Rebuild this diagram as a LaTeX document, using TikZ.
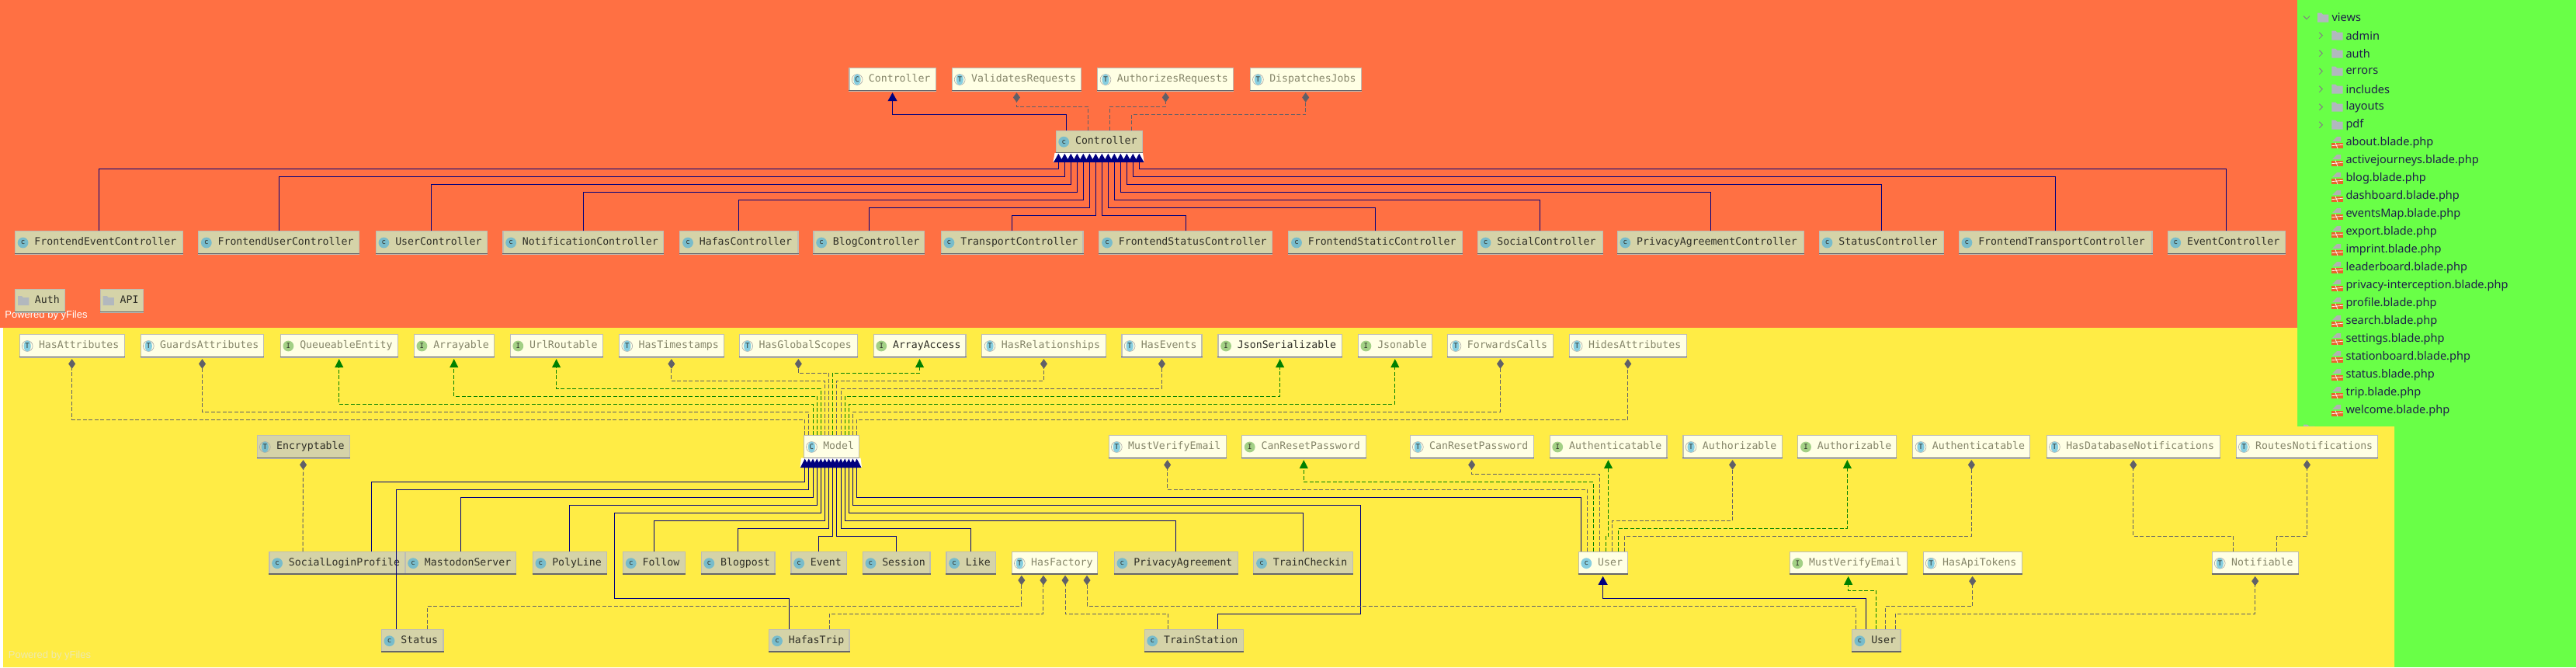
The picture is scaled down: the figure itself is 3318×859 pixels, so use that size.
\documentclass[tikz,border=0pt]{standalone}
\usepackage{fontspec}
\usetikzlibrary{arrows.meta,calc}
\newfontfamily\monof{DejaVu Sans Mono}
\newfontfamily\treef{Noto Sans}
\newfontfamily\yf{Liberation Sans}
\definecolor{bgor}{HTML}{FF7043}
\definecolor{bgye}{HTML}{FFEC45}
\definecolor{bggr}{HTML}{69FF47}
\definecolor{lightf}{HTML}{FFFFE4}
\definecolor{darkf}{HTML}{D5D3A8}
\definecolor{bord}{HTML}{BDBDB5}
\definecolor{barc}{HTML}{66666A}
\definecolor{txtlight}{HTML}{86866A}
\definecolor{txtdark}{HTML}{2E2E26}
\definecolor{bluel}{HTML}{87CEE0}
\definecolor{blued}{HTML}{78BCCB}
\definecolor{greeni}{HTML}{A3D085}
\definecolor{navyl}{HTML}{00007F}
\definecolor{greenl}{HTML}{008000}
\definecolor{grayl}{HTML}{606068}
\definecolor{fold}{HTML}{B2B8BE}
\definecolor{treet}{HTML}{1E1E4A}
\definecolor{bladeo}{HTML}{E8642C}
\tikzset{
  boxbase/.style={draw=bord,line width=1.1pt,anchor=north west,inner sep=0pt,minimum height=29.3pt,align=left,font=\monof\fontsize{13.2}{15}\selectfont},
  lightcls/.style={boxbase,fill=lightf,text=txtlight},
  strongcls/.style={boxbase,fill=lightf,text=txtdark},
  darkcls/.style={boxbase,fill=darkf,text=txtdark},
  iconletter/.style={inner sep=0pt,text=txtdark,font=\monof\fontsize{9}{9}\selectfont},
  inh/.style={draw=navyl,line width=1pt,-{Triangle[length=11pt,width=12pt,fill=navyl,sep=0pt]},shorten >=1.5pt},
  inhm/.style={draw=navyl,line width=1pt,-{Triangle[length=11.5pt,width=11.4pt,fill=navyl,sep=0pt]},shorten >=1.5pt},
  impl/.style={draw=greenl,line width=1pt,dash pattern=on 5pt off 2.5pt,-{Triangle[length=11pt,width=11pt,fill=greenl,sep=0pt]},shorten >=1.5pt},
  dep/.style={draw=grayl,line width=1pt,dash pattern=on 5pt off 2.5pt,-{Diamond[length=12.5pt,width=9pt,fill=grayl,sep=0pt]},shorten >=1.5pt},
  treetxt/.style={anchor=west,inner sep=0pt,text=treet,font=\treef\fontsize{14.55}{16}\selectfont},
}
\newcommand\iconbody[2]{%
  \ifx#2c\fill[\curblue] (#1-i) circle (6.9pt);\node[iconletter] (#1-l) at (#1-i) {c};\fi
  \ifx#2a\draw[gray!70,line width=.6pt] (#1-i) circle (6.9pt);\fill[\curblue] (#1-i) ellipse (4.6pt and 6.9pt);\node[iconletter] (#1-l) at (#1-i) {C};\fi
  \ifx#2t\draw[gray!70,line width=.6pt] (#1-i) circle (6.9pt);\fill[\curblue] (#1-i) ellipse (4.6pt and 6.9pt);\node[iconletter] (#1-l) at (#1-i) {T};\fi
  \ifx#2i\fill[greeni] (#1-i) circle (6.9pt);\node[iconletter] (#1-l) at (#1-i) {I};\fi
}
\newcommand\umlb[7]{% style,name,x1,x2,y,kind,label
  \pgfmathsetmacro\bw{#4-#3}%
  \node[#1,text width=\bw pt] (#2) at (#3,#5) {\strut\hspace*{25pt}#7};
  \draw[barc,line width=1.5pt] ([yshift=1.2pt]#2.south west) -- ([yshift=1.2pt]#2.south east);
  \coordinate (#2-i) at ([xshift=10.7pt]#2.west);
  \iconbody{#2}{#6}%
}
\newcommand\lbx[6]{\def\curblue{bluel}\umlb{lightcls}{#1}{#2}{#3}{#4}{#5}{#6}}
\newcommand\sbx[6]{\def\curblue{bluel}\umlb{strongcls}{#1}{#2}{#3}{#4}{#5}{#6}}
\newcommand\dbx[6]{\def\curblue{blued}\umlb{darkcls}{#1}{#2}{#3}{#4}{#5}{#6}}
\newcommand\rise[4]{\draw[#1] (#2) |- (#3 |- 0,#4) -- (#3);}
\newcommand\foldr[2]{% x, y
  \fill[fold] (#1,#2-6) -- (#1+5,#2-6) -- (#1+7,#2-4) -- (#1+14.3,#2-4) -- (#1+14.3,#2+6) -- (#1,#2+6) -- cycle;}
\begin{document}
\begin{tikzpicture}[x=1pt,y=-1pt]
\useasboundingbox (0,0) rectangle (3318,859);
\fill[white] (0,0) rectangle (3318,859);
\fill[bgor] (0,0) rectangle (2959,422);
\fill[bggr] (2959,0) rectangle (3318,859);
% ---------- tree
\draw[gray!60!black!70,line width=1pt] (2967,20.7) -- (2971,24.7) -- (2975,20.7);
\foldr{2985}{22.7}
\node[treetxt] (tree0) at (3003.3,22.7) {views};
\foreach \t [count=\k from 1] in {admin,auth,errors,includes,layouts,pdf}{
  \pgfmathsetmacro\yy{22.7+23*\k}
  \draw[gray!60!black!70,line width=1pt] (2987.3,\yy-4) -- (2991.3,\yy) -- (2987.3,\yy+4);
  \foldr{3003.3}{\yy}
  \node[treetxt] (tree\k) at (3021.3,\yy) {\t};
}
\foreach \t [count=\k from 7] in {about,activejourneys,blog,dashboard,eventsMap,export,imprint,leaderboard,privacy-interception,profile,search,settings,stationboard,status,trip,welcome}{
  \pgfmathsetmacro\yy{22.7+23*\k}
  \fill[gray!60] (3004,\yy-1.5) -- (3010,\yy-7.5) -- (3015,\yy-7.5) -- (3015,\yy-1.5) -- cycle;
  \fill[bladeo] (3003.3,\yy) rectangle (3018,\yy+7.5);
  \draw[white,line width=.7pt] (3003.3,\yy+4) -- (3018,\yy+2.5) (3008,\yy) -- (3011,\yy+7.5);
  \node[treetxt] (tree\k) at (3021.3,\yy) {\t.blade.php};
}
\foldr{2967}{552.7}
% ---------- yellow panel
\fill[bgye] (4,422) -- (2959,422) -- (2959,549) -- (3084,549) -- (3084,859) -- (4,859) -- cycle;
\node[anchor=center,inner sep=0pt,text=white,font=\yf\fontsize{13}{14}\selectfont] (pw1) at (59.5,406) {Powered by yFiles};
\node[anchor=center,inner sep=0pt,text={rgb,255:red,237;green,233;blue,176},font=\yf\fontsize{13}{14}\selectfont] (pw2) at (64,843.7) {Powered by yFiles};
% ---------- boxes
\lbx{cTop}{1093.4}{1204.6}{87.3}{a}{Controller}
\lbx{vReq}{1225.5}{1392.3}{87.3}{t}{ValidatesRequests}
\lbx{aReq}{1413.3}{1588.3}{87.3}{t}{AuthorizesRequests}
\lbx{dJobs}{1609.7}{1752.6}{87.3}{t}{DispatchesJobs}
\dbx{ctrl}{1359.5}{1470.5}{167.5}{c}{Controller}
\dbx{c1}{18.9}{234.7}{297.3}{c}{FrontendEventController}
\dbx{c2}{255.1}{462.2}{297.3}{c}{FrontendUserController}
\dbx{c3}{483.7}{626.5}{297.3}{c}{UserController}
\dbx{c4}{647.4}{854.3}{297.3}{c}{NotificationController}
\dbx{c5}{875.3}{1027.4}{297.3}{c}{HafasController}
\dbx{c6}{1047.4}{1190.3}{297.3}{c}{BlogController}
\dbx{c7}{1211.7}{1394.4}{297.3}{c}{TransportController}
\dbx{c8}{1415.3}{1638.3}{297.3}{c}{FrontendStatusController}
\dbx{c9}{1659.3}{1882.7}{297.3}{c}{FrontendStaticController}
\dbx{c10}{1902.8}{2063.5}{297.3}{c}{SocialController}
\dbx{c11}{2082.6}{2322.7}{297.3}{c}{PrivacyAgreementController}
\dbx{c12}{2342.8}{2502.6}{297.3}{c}{StatusController}
\dbx{c13}{2522.7}{2771.4}{297.3}{c}{FrontendTransportController}
\dbx{c14}{2791.5}{2942.6}{297.3}{c}{EventController}
% folders
\node[darkcls,text width=64.3pt] (fAuth) at (18.9,372.3) {\strut\hspace*{25.5pt}Auth};
\draw[barc,line width=1.5pt] ([yshift=1.2pt]fAuth.south west) -- ([yshift=1.2pt]fAuth.south east);
\foldr{23}{387}
\node[darkcls,text width=55.1pt] (fApi) at (128.6,372.3) {\strut\hspace*{25.5pt}API};
\draw[barc,line width=1.5pt] ([yshift=1.2pt]fApi.south west) -- ([yshift=1.2pt]fApi.south east);
\foldr{132.6}{387}
% row C
\lbx{hasAttr}{24.5}{159.7}{430.3}{t}{HasAttributes}
\lbx{guards}{180.6}{339.3}{430.3}{t}{GuardsAttributes}
\lbx{queue}{360.7}{511.7}{430.3}{i}{QueueableEntity}
\lbx{arrbl}{532.7}{635.7}{430.3}{i}{Arrayable}
\lbx{urlR}{656.6}{775.5}{430.3}{i}{UrlRoutable}
\lbx{hasTime}{797}{931.6}{430.3}{t}{HasTimestamps}
\lbx{hasGlob}{952}{1103.6}{430.3}{t}{HasGlobalScopes}
\sbx{arrAcc}{1124.5}{1243.4}{430.3}{i}{ArrayAccess}
\lbx{hasRel}{1264.3}{1423.5}{430.3}{t}{HasRelationships}
\lbx{hasEv}{1444.4}{1547.4}{430.3}{t}{HasEvents}
\sbx{jsonS}{1568.4}{1727.7}{430.3}{i}{JsonSerializable}
\lbx{jsonA}{1748.7}{1843.8}{430.3}{i}{Jsonable}
\lbx{fwd}{1864.3}{1999.6}{430.3}{t}{ForwardsCalls}
\lbx{hides}{2020.5}{2171.9}{430.3}{t}{HidesAttributes}
% row mid
\dbx{encr}{330.6}{449.5}{560.3}{t}{Encryptable}
\lbx{model}{1034.7}{1105.6}{560.3}{a}{Model}
\lbx{mve}{1427.6}{1578.6}{560.3}{t}{MustVerifyEmail}
\lbx{crpI}{1599}{1758.5}{560.3}{i}{CanResetPassword}
\lbx{crpT}{1815.6}{1974.6}{560.3}{t}{CanResetPassword}
\lbx{authI}{1995.5}{2146.4}{560.3}{i}{Authenticatable}
\lbx{azT}{2167.4}{2294.6}{560.3}{t}{Authorizable}
\lbx{azI}{2315.3}{2442.3}{560.3}{i}{Authorizable}
\lbx{authT}{2463.3}{2614.3}{560.3}{t}{Authenticatable}
\lbx{dbNot}{2635.7}{2858.7}{560.3}{t}{HasDatabaseNotifications}
\lbx{rtNot}{2879.6}{3062.2}{560.3}{t}{RoutesNotifications}
% row D
\dbx{social}{346.4}{521.4}{710}{c}{SocialLoginProfile}
\dbx{masto}{521.4}{664.3}{710}{c}{MastodonServer}
\dbx{poly}{685.7}{781.1}{710}{c}{PolyLine}
\dbx{follow}{802}{881.6}{710}{c}{Follow}
\dbx{blogp}{902.6}{997.4}{710}{c}{Blogpost}
\dbx{event}{1018.4}{1089.8}{710}{c}{Event}
\dbx{session}{1110.7}{1197.4}{710}{c}{Session}
\dbx{like}{1218.4}{1281.6}{710}{c}{Like}
\lbx{hasFac}{1302.6}{1413.3}{710}{t}{HasFactory}
\dbx{privA}{1434.7}{1593.9}{710}{c}{PrivacyAgreement}
\dbx{trainC}{1614.3}{1742}{710}{c}{TrainCheckin}
\lbx{userL}{2032.6}{2095.5}{710}{c}{User}
\lbx{mveI}{2304.6}{2455.6}{710}{i}{MustVerifyEmail}
\lbx{apiT}{2476.5}{2603.6}{710}{t}{HasApiTokens}
\lbx{notif}{2848.5}{2959.7}{710}{t}{Notifiable}
% row E
\dbx{status}{490.8}{570.4}{810}{c}{Status}
\dbx{hafas}{990.3}{1093.4}{810}{c}{HafasTrip}
\dbx{trainS}{1473.5}{1601}{810}{c}{TrainStation}
\dbx{userD}{2384.7}{2447.4}{810}{c}{User}
% ---------- anchors for connectors
\foreach \k in {1,...,14}{
  \pgfmathsetmacro\xx{1363.3+8*(\k-1)}
  \coordinate (Cb\k) at (\xx,196.3);
  \pgfmathsetmacro\xx{1036.7+5.146*(\k-1)}
  \coordinate (Mt\k) at (\xx,560.3);
  \coordinate (Mb\k) at (\xx,589);
}
\coordinate (Ct1) at (1373.5,167.5);
\coordinate (Ct2) at (1401.5,167.5);
\coordinate (Ct3) at (1429.6,167.5);
\coordinate (Ct4) at (1457.7,167.5);
\coordinate (socA) at (478.6,710);
\coordinate (socB) at (390,710);
\coordinate (stA) at (510.7,810);
\coordinate (stB) at (550.5,810);
\coordinate (htA) at (1016.3,810);
\coordinate (htB) at (1068.4,810);
\coordinate (tsA) at (1568.4,810);
\coordinate (tsB) at (1504.6,810);
\coordinate (hf1) at (1315.8,739.3);
\coordinate (hf2) at (1343.9,739.3);
\coordinate (hf3) at (1372,739.3);
\coordinate (hf4) at (1400,739.3);
\foreach \n/\x in {1/2036.6,2/2044.6,3/2052.2,4/2060.7,5/2068.3,6/2076.3,7/2084.4,8/2092.4}{\coordinate (Ut\n) at (\x,710);}
\foreach \n/\x in {1/2390.3,2/2403.6,3/2416.3,4/2428.6,5/2441.3}{\coordinate (Ud\n) at (\x,810);}
\coordinate (Nt1) at (2876.5,710);
\coordinate (Nt2) at (2932.7,710);
% ---------- white backing of the arrowhead rows
\fill[white] (1358.5,197) -- (1472,197) -- (1473.5,208.7) -- (1356.5,208.7) -- cycle;
\fill[white] (1032,589.5) -- (1108.5,589.5) -- (1110,601.7) -- (1030.5,601.7) -- cycle;
% ---------- controller connectors
\rise{inh}{Ct1}{cTop.south}{147.3}
\rise{dep}{Ct2}{vReq.south}{137.3}
\rise{dep}{Ct3}{aReq.south}{137.3}
\rise{dep}{Ct4}{dJobs.south}{147.3}
\rise{inh}{c1.north}{Cb1}{217.3}
\rise{inh}{c2.north}{Cb2}{227.3}
\rise{inh}{c3.north}{Cb3}{237.3}
\rise{inh}{c4.north}{Cb4}{247.3}
\rise{inh}{c5.north}{Cb5}{257.3}
\rise{inh}{c6.north}{Cb6}{267.3}
\rise{inh}{c7.north}{Cb7}{277.3}
\rise{inh}{c8.north}{Cb8}{277.3}
\rise{inh}{c9.north}{Cb9}{267.3}
\rise{inh}{c10.north}{Cb10}{257.3}
\rise{inh}{c11.north}{Cb11}{247.3}
\rise{inh}{c12.north}{Cb12}{237.3}
\rise{inh}{c13.north}{Cb13}{227.3}
\rise{inh}{c14.north}{Cb14}{217.3}
% ---------- model upward
\rise{dep}{Mt1}{hasAttr.south}{540.3}
\rise{dep}{Mt2}{guards.south}{530.3}
\rise{impl}{Mt3}{queue.south}{520.3}
\rise{impl}{Mt4}{arrbl.south}{510.3}
\rise{impl}{Mt5}{urlR.south}{500.3}
\rise{dep}{Mt6}{hasTime.south}{490.3}
\rise{dep}{Mt7}{hasGlob.south}{480.3}
\rise{impl}{Mt8}{arrAcc.south}{480.3}
\rise{dep}{Mt9}{hasRel.south}{490.3}
\rise{dep}{Mt10}{hasEv.south}{500.3}
\rise{impl}{Mt11}{jsonS.south}{510.3}
\rise{impl}{Mt12}{jsonA.south}{520.3}
\rise{dep}{Mt13}{fwd.south}{530.3}
\rise{dep}{Mt14}{hides.south}{540.3}
% ---------- model children
\rise{inhm}{socA}{Mb1}{620.3}
\rise{inhm}{stA}{Mb2}{630.3}
\rise{inhm}{masto.north}{Mb3}{640.3}
\rise{inhm}{poly.north}{Mb4}{650.3}
\draw[inhm] (htA) |- (791.3,770.3) |- (Mb5 |- 0,660.3) -- (Mb5);
\rise{inhm}{follow.north}{Mb6}{670.3}
\rise{inhm}{blogp.north}{Mb7}{680.3}
\rise{inhm}{event.north}{Mb8}{690.3}
\rise{inhm}{session.north}{Mb9}{690.3}
\rise{inhm}{like.north}{Mb10}{680.3}
\rise{inhm}{privA.north}{Mb11}{670.3}
\rise{inhm}{trainC.north}{Mb12}{660.3}
\draw[inhm] (tsA) |- (1752.2,790.3) |- (Mb13 |- 0,650.3) -- (Mb13);
\rise{inhm}{Ut1}{Mb14}{640.3}
% ---------- others
\draw[dep] (socB) -- (encr.south);
\rise{dep}{stB}{hf1}{780.3}
\rise{dep}{htB}{hf2}{790.3}
\rise{dep}{tsB}{hf3}{790.3}
\rise{dep}{Ud1}{hf4}{780.3}
\rise{dep}{Ut2}{mve.south}{630.3}
\rise{impl}{Ut3}{crpI.south}{620.3}
\rise{dep}{Ut4}{crpT.south}{610.3}
\rise{impl}{Ut5}{authI.south}{690.3}
\rise{dep}{Ut6}{azT.south}{670.3}
\rise{impl}{Ut7}{azI.south}{680.3}
\rise{dep}{Ut8}{authT.south}{690.3}
\rise{inh}{Ud2}{userL.south}{770.3}
\rise{impl}{Ud3}{mveI.south}{760.3}
\rise{dep}{Ud4}{apiT.south}{780.3}
\rise{dep}{Ud5}{notif.south}{790.3}
\rise{dep}{Nt1}{dbNot.south}{690.3}
\rise{dep}{Nt2}{rtNot.south}{690.3}
\end{tikzpicture}
\end{document}
